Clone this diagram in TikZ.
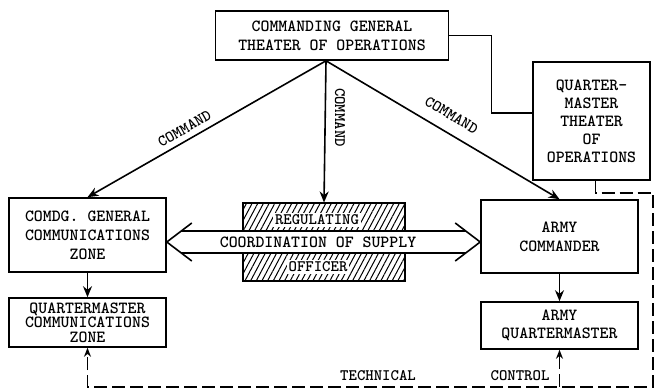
\documentclass[tikz,border=0pt]{standalone}
\usetikzlibrary{arrows.meta,patterns.meta}

\begin{document}
\begin{tikzpicture}[x=10pt,y=10pt,
  box/.style={draw,line width=1.6pt,align=center,inner sep=0pt,font=\ttfamily\bfseries\fontsize{17}{19}\selectfont},
  lbl/.style={font=\ttfamily\bfseries\fontsize{16}{18}\selectfont},
  cmd/.style={line width=1.6pt,-{Stealth[length=11pt,width=9pt]}},
  tc/.style={line width=1.6pt,dash pattern=on 13pt off 5pt,-{Stealth[length=9pt,width=7pt]}}]
\useasboundingbox (0,0) rectangle (65.5,39);

\node[box,minimum width=233pt,minimum height=49pt] (cg) at (33.2,35.45) {COMMANDING GENERAL\\THEATER OF OPERATIONS};
\node[box,minimum width=117pt,minimum height=118pt,font=\ttfamily\bfseries\fontsize{17}{18}\selectfont] (qmt) at (59.15,26.9) {QUARTER-\\MASTER\\THEATER\\OF\\OPERATIONS};
\node[box,minimum width=157pt,minimum height=74pt] (cgcz) at (8.75,15.5) {COMDG. GENERAL\\COMMUNICATIONS\\ZONE};
\node[box,minimum width=157pt,minimum height=49pt,font=\ttfamily\bfseries\fontsize{17}{14.5}\selectfont] (qmcz) at (8.75,6.75) {QUARTERMASTER\\COMMUNICATIONS\\ZONE};
\node[box,minimum width=157pt,minimum height=73pt] (ac) at (55.95,15.35) {ARMY\\COMMANDER};
\node[box,minimum width=157pt,minimum height=47pt,font=\ttfamily\bfseries\fontsize{17}{18}\selectfont] (aqm) at (55.95,6.45) {ARMY\\QUARTERMASTER};

\node[draw,line width=1.6pt,minimum width=162pt,minimum height=78pt,pattern={Lines[angle=62,distance=5pt,line width=1pt]}] (rso) at (32.4,14.8) {};
\coordinate (lt) at (cgcz.east |- rso.center);
\coordinate (rt) at (ac.west |- rso.center);
\fill[white] ([shift={(1.45,1.1)}]lt) rectangle ([shift={(-1.45,-1.1)}]rt);
\draw[line width=1.6pt] (lt) ++(2.5,1.9) -- (lt) -- ++(2.5,-1.9);
\draw[line width=1.6pt] (rt) ++(-2.5,1.9) -- (rt) -- ++(-2.5,-1.9);
\draw[line width=1.6pt] ([shift={(1.45,1.1)}]lt) -- ([shift={(-1.45,1.1)}]rt);
\draw[line width=1.6pt] ([shift={(1.45,-1.1)}]lt) -- ([shift={(-1.45,-1.1)}]rt);
\node[lbl,font=\ttfamily\bfseries\fontsize{17}{19}\selectfont] (cos) at (31.8,14.8) {COORDINATION OF SUPPLY};
\node[lbl,fill=white,inner sep=2pt] (reg) at (31.7,17.0) {REGULATING};
\node[lbl,fill=white,inner sep=2pt] (off) at (31.8,12.3) {OFFICER};

\coordinate (apex) at ([xshift=-6pt]cg.south);
\draw[cmd] (apex) -- (cgcz.north) node[lbl,sloped,above=2pt,pos=0.57] {COMMAND};
\draw[cmd] (apex) -- (rso.north) node[lbl,pos=0.4,rotate=-90,anchor=south,inner ysep=9pt] {COMMAND};
\draw[cmd] (apex) -- (ac.north) node[lbl,sloped,above=8pt,pos=0.5] {COMMAND};
\draw[cmd] (cgcz) -- (qmcz);
\draw[cmd] (ac) -- (aqm);

\draw[line width=1.6pt] (cg.east) -- ++(4.2,0) |- ([yshift=8pt]qmt.west);
\coordinate (corner) at (65.3,0.3);
\draw[tc] ([xshift=4pt]qmt.south) -- ++(0,-1.2) -| (corner) -| (qmcz.south);
\draw[tc] (aqm.south |- corner) -- (aqm.south);

\node[lbl] (tech) at (37.8,1.4) {TECHNICAL};
\node[lbl] (ctrl) at (52.0,1.4) {CONTROL};
\end{tikzpicture}
\end{document}
